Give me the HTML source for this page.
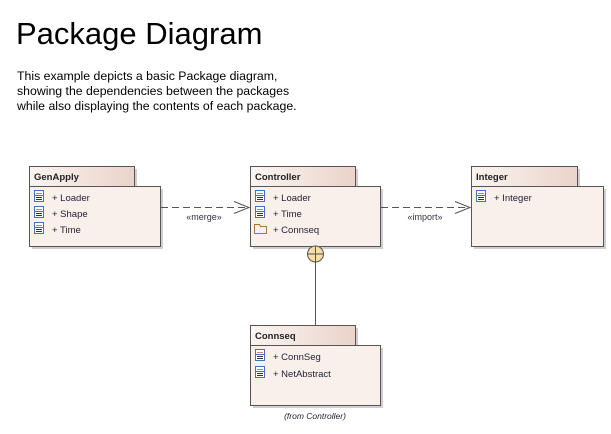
<!DOCTYPE html>
<html><head><meta charset="utf-8"><style>
html,body{margin:0;padding:0;background:#fff;}
svg{display:block;}
text{font-family:"Liberation Sans",Arial,sans-serif;}
</style></head><body>
<svg width="611" height="434" viewBox="0 0 611 434" xmlns="http://www.w3.org/2000/svg">
<defs>
<linearGradient id="tg" x1="0" x2="1" y1="0" y2="0">
<stop offset="0" stop-color="#fbf4f1"/><stop offset="1" stop-color="#ead3ca"/>
</linearGradient>
<g id="ci">
<rect x="0.5" y="0.5" width="9" height="11" fill="#fff" stroke="#4a6fc0"/>
<line x1="2" y1="3.5" x2="8" y2="3.5" stroke="#d08080"/>
<line x1="0.5" y1="5.5" x2="9.5" y2="5.5" stroke="#4a6fc0"/>
<line x1="2" y1="7.5" x2="8" y2="7.5" stroke="#334"/>
<line x1="2" y1="9.5" x2="8" y2="9.5" stroke="#334"/>
</g>
</defs>
<text x="16" y="44" font-size="31" fill="#000">Package Diagram</text>
<text font-size="12.3" fill="#000">
<tspan x="17" y="80">This example depicts a basic Package diagram,</tspan>
<tspan x="17" y="95">showing the dependencies between the packages</tspan>
<tspan x="17" y="110">while also displaying the contents of each package.</tspan>
</text>

<g fill="#cfcfcf">
<rect x="32" y="169" width="105" height="20"/><rect x="32" y="189" width="131" height="60"/>
<rect x="253" y="169" width="105" height="20"/><rect x="253" y="189" width="130" height="60"/>
<rect x="474" y="169" width="106" height="20"/><rect x="474" y="189" width="132" height="60"/>
<rect x="253" y="328" width="105" height="20"/><rect x="253" y="348" width="130" height="60"/>
</g>

<g stroke="#555" stroke-width="1">
<rect x="29.5" y="166.5" width="105" height="20" fill="url(#tg)"/>
<rect x="29.5" y="186.5" width="131" height="60" fill="#f9f0ec"/>
<rect x="250.5" y="166.5" width="105" height="20" fill="url(#tg)"/>
<rect x="250.5" y="186.5" width="130" height="60" fill="#f9f0ec"/>
<rect x="471.5" y="166.5" width="106" height="20" fill="url(#tg)"/>
<rect x="471.5" y="186.5" width="132" height="60" fill="#f9f0ec"/>
<rect x="250.5" y="325.5" width="105" height="20" fill="url(#tg)"/>
<rect x="250.5" y="345.5" width="130" height="60" fill="#f9f0ec"/>
</g>

<g font-size="9.5" font-weight="bold" fill="#222">
<text x="34" y="180">GenApply</text>
<text x="255" y="180">Controller</text>
<text x="476" y="180">Integer</text>
<text x="255" y="339">Connseq</text>
</g>

<g font-size="9.5" fill="#223">
<use href="#ci" x="34" y="190"/><text x="52" y="201">+ Loader</text>
<use href="#ci" x="34" y="206"/><text x="52" y="217">+ Shape</text>
<use href="#ci" x="34" y="222"/><text x="52" y="233">+ Time</text>

<use href="#ci" x="255" y="190"/><text x="273" y="201">+ Loader</text>
<use href="#ci" x="255" y="206"/><text x="273" y="217">+ Time</text>
<path d="M254.5 224.5h5l1 2h6v7h-12z" fill="none" stroke="#a8763c"/>
<text x="273" y="233">+ Connseq</text>

<use href="#ci" x="476" y="190"/><text x="494" y="201">+ Integer</text>

<use href="#ci" x="255" y="349"/><text x="273" y="360">+ ConnSeg</text>
<use href="#ci" x="255" y="366"/><text x="273" y="377">+ NetAbstract</text>
</g>

<text x="315" y="419" font-size="8.5" font-style="italic" fill="#223" text-anchor="middle">(from Controller)</text>

<g stroke="#555" fill="none" stroke-width="1">
<line x1="161" y1="207.5" x2="249" y2="207.5" stroke-dasharray="7,4"/>
<polyline points="234,201.5 249,207.5 234,213.5"/>
<line x1="381" y1="207.5" x2="470" y2="207.5" stroke-dasharray="7,4"/>
<polyline points="455,201.5 470,207.5 455,213.5"/>
<line x1="315.5" y1="262" x2="315.5" y2="325"/>
<circle cx="315.5" cy="254" r="8" fill="#f8dcaa"/>
<line x1="315.5" y1="246" x2="315.5" y2="262"/>
<line x1="307.5" y1="254" x2="323.5" y2="254"/>
</g>
<g font-size="9" fill="#334">
<text x="204" y="220" text-anchor="middle">«merge»</text>
<text x="425" y="220" text-anchor="middle">«import»</text>
</g>
</svg>
</body></html>
